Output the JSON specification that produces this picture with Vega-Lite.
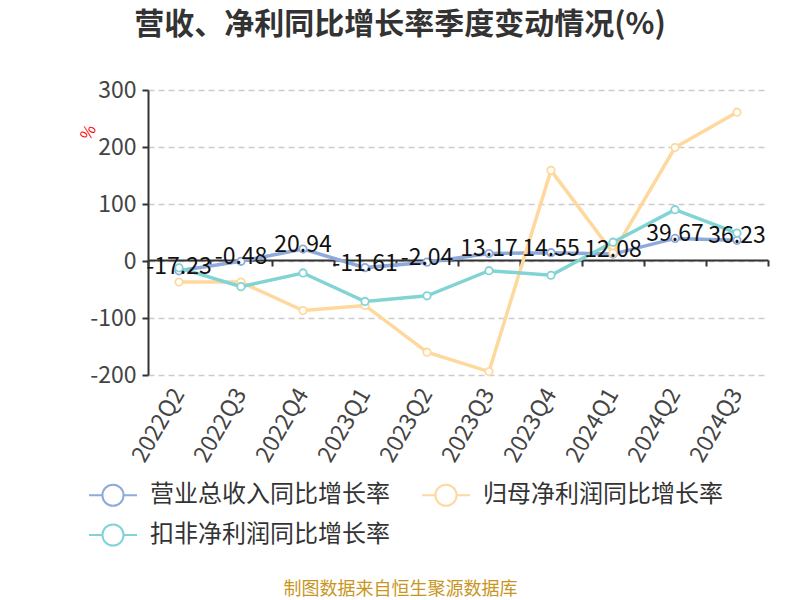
{
  "$schema": "https://vega.github.io/schema/vega-lite/v6.json",
  "autosize": {"type": "none"},
  "width": 620,
  "height": 285,
  "padding": {"left": 148, "top": 90, "right": 32, "bottom": 225},
  "background": "white",
  "title": {
    "text": "营收、净利同比增长率季度变动情况(%)",
    "font": "Noto Sans CJK SC",
    "fontSize": 30,
    "fontWeight": "bold",
    "color": "#333333",
    "anchor": "middle",
    "dx": -58,
    "offset": 39
  },
  "config": {
    "font": "Noto Sans CJK SC",
    "view": {"stroke": null},
    "locale": {"number": {"decimal": ".", "thousands": ",", "grouping": [3], "currency": ["", ""], "minus": "-"}}
  },
  "data": {
    "values": [
      {"q": "2022Q2", "s": "营业总收入同比增长率", "v": -17.23},
      {"q": "2022Q3", "s": "营业总收入同比增长率", "v": -0.48},
      {"q": "2022Q4", "s": "营业总收入同比增长率", "v": 20.94},
      {"q": "2023Q1", "s": "营业总收入同比增长率", "v": -11.61},
      {"q": "2023Q2", "s": "营业总收入同比增长率", "v": -2.04},
      {"q": "2023Q3", "s": "营业总收入同比增长率", "v": 13.17},
      {"q": "2023Q4", "s": "营业总收入同比增长率", "v": 14.55},
      {"q": "2024Q1", "s": "营业总收入同比增长率", "v": 12.08},
      {"q": "2024Q2", "s": "营业总收入同比增长率", "v": 39.67},
      {"q": "2024Q3", "s": "营业总收入同比增长率", "v": 36.23},
      {"q": "2022Q2", "s": "归母净利润同比增长率", "v": -37},
      {"q": "2022Q3", "s": "归母净利润同比增长率", "v": -37},
      {"q": "2022Q4", "s": "归母净利润同比增长率", "v": -87},
      {"q": "2023Q1", "s": "归母净利润同比增长率", "v": -78},
      {"q": "2023Q2", "s": "归母净利润同比增长率", "v": -160},
      {"q": "2023Q3", "s": "归母净利润同比增长率", "v": -194},
      {"q": "2023Q4", "s": "归母净利润同比增长率", "v": 159},
      {"q": "2024Q1", "s": "归母净利润同比增长率", "v": 14},
      {"q": "2024Q2", "s": "归母净利润同比增长率", "v": 199},
      {"q": "2024Q3", "s": "归母净利润同比增长率", "v": 261},
      {"q": "2022Q2", "s": "扣非净利润同比增长率", "v": -12},
      {"q": "2022Q3", "s": "扣非净利润同比增长率", "v": -45},
      {"q": "2022Q4", "s": "扣非净利润同比增长率", "v": -21},
      {"q": "2023Q1", "s": "扣非净利润同比增长率", "v": -71},
      {"q": "2023Q2", "s": "扣非净利润同比增长率", "v": -61},
      {"q": "2023Q3", "s": "扣非净利润同比增长率", "v": -17},
      {"q": "2023Q4", "s": "扣非净利润同比增长率", "v": -25},
      {"q": "2024Q1", "s": "扣非净利润同比增长率", "v": 33},
      {"q": "2024Q2", "s": "扣非净利润同比增长率", "v": 90},
      {"q": "2024Q3", "s": "扣非净利润同比增长率", "v": 49}
    ]
  },
  "encoding": {
    "x": {"field": "q", "type": "nominal", "sort": null, "scale": {"paddingInner": 0, "paddingOuter": 0}},
    "y": {
      "field": "v", "type": "quantitative",
      "scale": {"domain": [-200, 300], "nice": false, "zero": false},
      "axis": {
        "values": [-200, -100, 0, 100, 200, 300],
        "format": "d",
        "title": "%",
        "titleColor": "#ff0000",
        "titleFontSize": 16,
        "titleFontWeight": "normal",
        "titleAngle": -60,
        "titleX": -60,
        "titleY": 42,
        "titleAlign": "center",
        "titleBaseline": "middle",
        "labelFontSize": 23,
        "labelColor": "#444444",
        "labelPadding": 6,
        "tickColor": "#333333",
        "tickSize": 6,
        "tickWidth": 2,
        "domainColor": "#333333",
        "domainWidth": 2,
        "gridColor": "#cccccc",
        "gridDash": [6, 4],
        "gridWidth": 1.5
      }
    }
  },
  "layer": [
    {
      "mark": {"type": "line", "strokeWidth": 3.5},
      "encoding": {
        "x": {"field": "q", "type": "nominal", "sort": null, "scale": {"paddingInner": 0, "paddingOuter": 0},
          "axis": {
            "orient": "bottom",
            "domain": false,
            "ticks": false,
            "labelAngle": -60,
            "labelAlign": "right",
            "labelBaseline": "middle",
            "labelFontSize": 23,
            "labelColor": "#444444",
            "labelPadding": 15,
            "title": "制图数据来自恒生聚源数据库",
            "titleColor": "#c8961e",
            "titleFontSize": 18,
            "titleFontWeight": "normal",
            "titleX": 252,
            "titleY": 214,
            "titleAlign": "center",
            "titleBaseline": "middle"
          }
        },
        "stroke": {
          "field": "s", "type": "nominal", "sort": null,
          "scale": {
            "domain": ["营业总收入同比增长率", "归母净利润同比增长率", "扣非净利润同比增长率"],
            "range": ["#8eaadc", "#fed89c", "#82d4d4"]
          },
          "legend": {
            "title": null,
            "orient": "none",
            "legendX": -60,
            "legendY": 380,
            "direction": "horizontal",
            "columns": 2,
            "columnPadding": 28,
            "rowPadding": 0,
            "symbolType": "M-1,0L-0.44,0M0.44,0L1,0M0.44,0A0.44,0.44 0 1 1 -0.44,0A0.44,0.44 0 1 1 0.44,0",
            "symbolSize": 2304,
            "symbolStrokeWidth": 2,
            "symbolFillColor": "white",
            "labelFontSize": 24,
            "labelColor": "#333333",
            "labelOffset": 12,
            "labelLimit": 400
          }
        }
      }
    },
    {
      "mark": {"type": "point", "filled": true, "fill": "white", "size": 55, "strokeWidth": 1.8, "opacity": 1},
      "encoding": {
        "x": {"field": "q", "type": "nominal", "sort": null, "scale": {"paddingInner": 0, "paddingOuter": 0},
          "axis": {
            "orient": "bottom",
            "offset": -115,
            "labels": false,
            "title": null,
            "domain": true,
            "domainColor": "#333333",
            "domainWidth": 2,
            "ticks": true,
            "tickBand": "extent",
            "tickColor": "#333333",
            "tickWidth": 2,
            "tickSize": 6
          }
        },
        "stroke": {"field": "s", "type": "nominal", "sort": null, "legend": null}
      }
    },
    {
      "transform": [{"filter": "datum.s === '营业总收入同比增长率'"}],
      "mark": {"type": "text", "fontSize": 23, "color": "#111111", "baseline": "middle", "dy": -4},
      "encoding": {
        "x": {"field": "q", "type": "nominal", "sort": null, "axis": null},
        "text": {"field": "v", "type": "quantitative", "format": ".2f"}
      }
    }
  ],
  "resolve": {"axis": {"x": "independent"}}
}
